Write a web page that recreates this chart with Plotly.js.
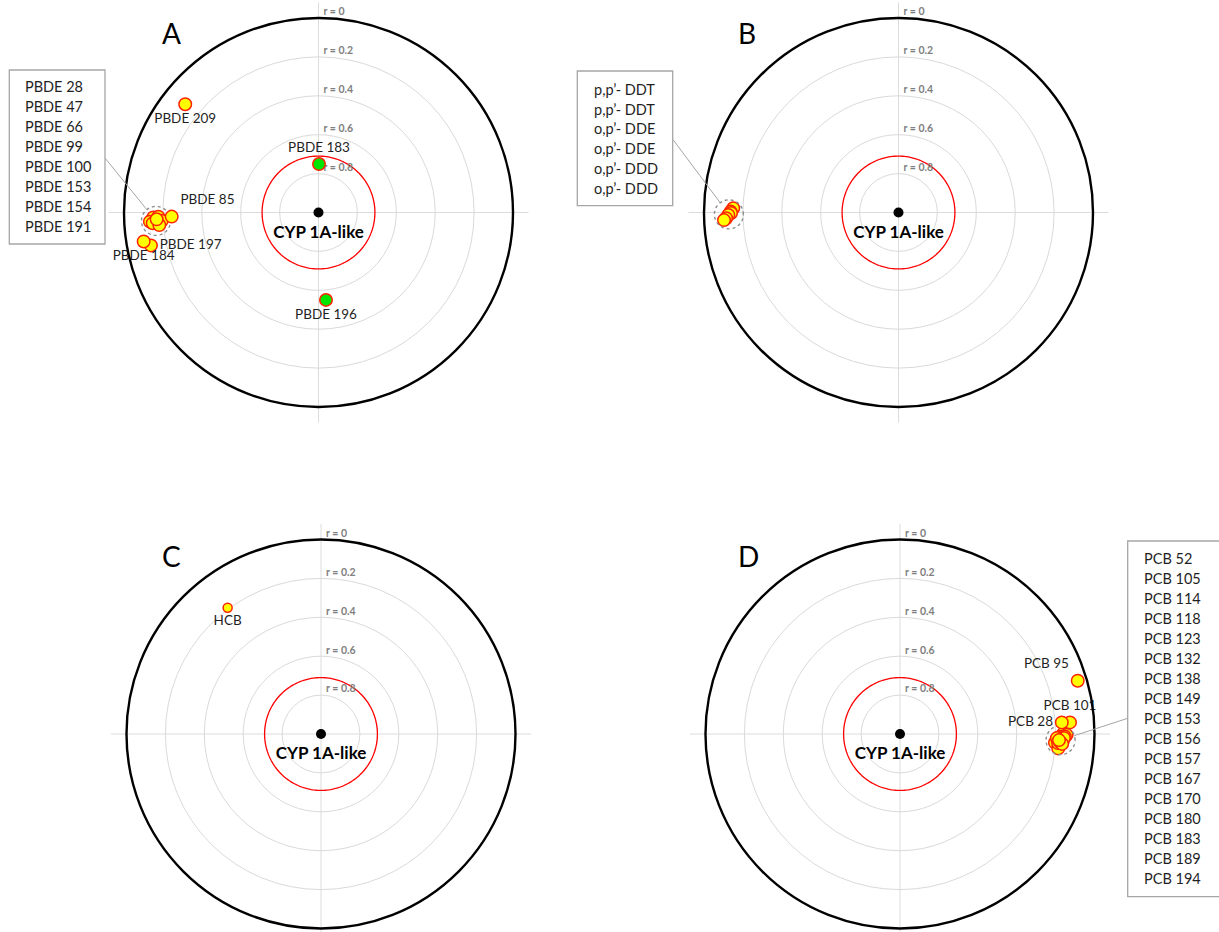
<!DOCTYPE html>
<html><head><meta charset="utf-8">
<script src="https://cdn.plot.ly/plotly-3.0.1.min.js"></script>
<style>html,body{margin:0;padding:0;background:#fff}#chart{width:1219px;height:932px}</style>
</head><body><div id="chart"></div>
<script>
// ---------------- DATA ----------------
// Ring labels (correlation r), threshold circle and centre label
const ringValues = [0, 0.2, 0.4, 0.6, 0.8];
const ringLabels = ['r = 0', 'r = 0.2', 'r = 0.4', 'r = 0.6', 'r = 0.8'];
const thresholdR = 0.71;
const centerLabel = 'CYP 1A-like';
const panelLetters = ['A', 'B', 'C', 'D'];

// Panel A – PBDEs (labelled points)
const aNames = ['PBDE 209', 'PBDE 183', 'PBDE 196', 'PBDE 85', 'PBDE 197', 'PBDE 184'];
const aR     = [0.117, 0.751, 0.549, 0.245, 0.122, 0.089];
const aTheta = [140.9, 89.4, 274.9, 181.6, 191.1, 189.4];
const aClass = ['other', 'similar', 'similar', 'other', 'other', 'other'];
// Panel A – cluster (listed in box)
const aClusterNames = ['PBDE 28', 'PBDE 47', 'PBDE 66', 'PBDE 99', 'PBDE 100', 'PBDE 153', 'PBDE 154', 'PBDE 191'];
const aClusterR     = [0.150, 0.176, 0.132, 0.163, 0.193, 0.146, 0.179, 0.167];
const aClusterTheta = [181.7, 181.5, 183.1, 183.8, 183.0, 183.7, 184.5, 182.4];

// Panel B – DDT-type compounds (cluster)
const bClusterNames = ['p,p\u2019- DDT', 'p,p\u2019- DDT', 'o,p\u2019- DDE', 'o,p\u2019- DDE', 'o,p\u2019- DDD', 'o,p\u2019- DDD'];
const bClusterR     = [0.150, 0.137, 0.139, 0.125, 0.113, 0.102];
const bClusterTheta = [178.5, 179.7, 180.2, 180.8, 181.9, 182.5];

// Panel C – HCB
const cNames = ['HCB'];
const cR     = [0.193];
const cTheta = [126.5];

// Panel D – PCBs (labelled points)
const dNames = ['PCB 95', 'PCB 101', 'PCB 28'];
const dR     = [0.046, 0.124, 0.166];
const dTheta = [16.7, 3.9, 4.1];
// Panel D – cluster
const dClusterNames = ['PCB 52', 'PCB 105', 'PCB 114', 'PCB 118', 'PCB 123', 'PCB 132', 'PCB 138', 'PCB 149', 'PCB 153',
                       'PCB 156', 'PCB 157', 'PCB 167', 'PCB 170', 'PCB 180', 'PCB 183', 'PCB 189', 'PCB 194'];
const dClusterR     = [0.160, 0.143, 0.177, 0.152, 0.194, 0.168, 0.202, 0.163, 0.179, 0.183, 0.172, 0.186, 0.157, 0.176, 0.193, 0.165, 0.182];
const dClusterTheta = [0.2, 359.7, 359.0, 359.1, 357.8, 358.1, 356.8, 357.3, 356.0, 354.8, 358.6, 356.7, 358.6, 357.1, 358.5, 356.5, 357.8];

// ---------------- STYLE / LAYOUT ----------------
const W = 1219, H = 932, R = 194.5, EXT = 15.5;
const FONT = 'Lato, "Open Sans", sans-serif';
const centers = [[318.5, 212.5], [898.5, 212.5], [321, 734], [900, 734]];
const letterPos = [[171, 33], [747, 33], [171, 556], [748, 556]];
const labelPlacement = {
  'PBDE 209': 'bottom center', 'PBDE 183': 'top center', 'PBDE 196': 'bottom center',
  'PBDE 85': 'top right', 'PBDE 197': 'middle right', 'PBDE 184': 'bottom center',
  'HCB': 'bottom center', 'PCB 95': 'top left', 'PCB 101': 'top center', 'PCB 28': 'middle left'
};
const classColor = {other: '#ffff00', similar: '#00e600'};
const OUTLINE = '#ff2200';
const TEXT_COLOR = '#1f1f1f';
const boxes = [ // legend boxes: pixel rect, text left, first line y, connector start, panel index
  {panel: 0, names: aClusterNames, x0: 9.3, x1: 105, y0: 70, y1: 244, tx: 23.3, ty: 86.7, step: 20, cx: 105, cy: 158, rr: aClusterR, th: aClusterTheta},
  {panel: 1, names: bClusterNames, x0: 577.3, x1: 672.7, y0: 71, y1: 205.7, tx: 591.7, ty: 89.3, step: 19.8, cx: 673.3, cy: 140, rr: bClusterR, th: bClusterTheta},
  {panel: 3, names: dClusterNames, x0: 1127.7, x1: 1230, y0: 541, y1: 896.7, tx: 1141.7, ty: 558.3, step: 20, cx: 1127.7, cy: 718.3, rr: dClusterR, th: dClusterTheta}
];
const CLUSTER_RAD = 14.5; // px

const dist = r => 1 - r;
const traces = [];
const layout = {
  width: W, height: H, margin: {l: 0, r: 0, t: 0, b: 0, pad: 0},
  paper_bgcolor: '#fff', showlegend: false, hovermode: false,
  font: {family: FONT, color: TEXT_COLOR},
  shapes: [], annotations: []
};

function polarName(i) { return i === 0 ? 'polar' : 'polar' + (i + 1); }

centers.forEach(([cx, cy], i) => {
  layout[polarName(i)] = {
    domain: {x: [(cx - R) / W, (cx + R) / W], y: [1 - (cy + R) / H, 1 - (cy - R) / H]},
    bgcolor: 'rgba(0,0,0,0)',
    radialaxis: {range: [0, 1], tickvals: ringValues.slice(1).map(dist), showticklabels: false, ticks: '',
                 showline: false, gridcolor: '#dadada', gridwidth: 1},
    angularaxis: {showgrid: false, showticklabels: false, ticks: '', showline: true, linecolor: '#000', linewidth: 2.4}
  };
  // crosshair
  layout.shapes.push({type: 'line', xref: 'paper', yref: 'paper', layer: 'below',
    x0: (cx - R - EXT) / W, x1: (cx + R + EXT) / W, y0: 1 - cy / H, y1: 1 - cy / H, line: {color: '#dcdcdc', width: 1}});
  layout.shapes.push({type: 'line', xref: 'paper', yref: 'paper', layer: 'below',
    x0: cx / W, x1: cx / W, y0: 1 - (cy - R - EXT) / H, y1: 1 - (cy + R + EXT) / H, line: {color: '#dcdcdc', width: 1}});
  const sp = polarName(i);
  // threshold circle
  const th = [], rr = [];
  for (let a = 0; a <= 360; a += 2) { th.push(a); rr.push(dist(thresholdR)); }
  traces.push({type: 'scatterpolar', subplot: sp, mode: 'lines', r: rr, theta: th,
    line: {color: '#ff0000', width: 1.3}, hoverinfo: 'skip'});
  // ring labels
  traces.push({type: 'scatterpolar', subplot: sp, mode: 'text', r: ringValues.map(dist), theta: ringValues.map(() => 90),
    text: ringLabels.map(t => '\u00a0\u00a0' + t), textposition: 'top right', cliponaxis: false,
    textfont: {family: FONT, size: 10.5, color: '#808080', weight: 'bold'}, hoverinfo: 'skip'});
  // panel letter
  layout.annotations.push({xref: 'paper', yref: 'paper', x: letterPos[i][0] / W, y: 1 - letterPos[i][1] / H,
    xanchor: 'center', yanchor: 'middle', showarrow: false, text: panelLetters[i], font: {family: FONT, size: 28, color: '#000'}});
});

// cluster points + dotted circles + boxes
boxes.forEach(b => {
  const sp = polarName(b.panel);
  const [cx, cy] = centers[b.panel];
  traces.push({type: 'scatterpolar', subplot: sp, mode: 'markers', r: b.rr.map(dist), theta: b.th,
    marker: {size: 12.5, color: classColor.other, line: {color: OUTLINE, width: 1.5}}, cliponaxis: false, hoverinfo: 'skip'});
  // centroid in xy
  let sx = 0, sy = 0;
  b.rr.forEach((r, k) => { const d = dist(r), t = b.th[k] * Math.PI / 180; sx += d * Math.cos(t); sy += d * Math.sin(t); });
  sx /= b.rr.length; sy /= b.rr.length;
  const rho = CLUSTER_RAD / R;
  const cr = [], ct = [];
  for (let a = 0; a <= 360; a += 4) {
    const x = sx + rho * Math.cos(a * Math.PI / 180), y = sy + rho * Math.sin(a * Math.PI / 180);
    cr.push(Math.hypot(x, y)); ct.push(Math.atan2(y, x) * 180 / Math.PI);
  }
  traces.push({type: 'scatterpolar', subplot: sp, mode: 'lines', r: cr, theta: ct, cliponaxis: false,
    line: {color: '#8c8c8c', width: 1.4, dash: 'dot'}, hoverinfo: 'skip'});
  // connector line
  const px = cx + sx * R, py = cy - sy * R;
  const vx = b.cx - px, vy = b.cy - py, n = Math.hypot(vx, vy);
  layout.shapes.push({type: 'line', xref: 'paper', yref: 'paper', layer: 'above',
    x0: b.cx / W, y0: 1 - b.cy / H, x1: (px + vx / n * CLUSTER_RAD) / W, y1: 1 - (py + vy / n * CLUSTER_RAD) / H,
    line: {color: '#a6a6a6', width: 1}});
  // box
  layout.shapes.push({type: 'rect', xref: 'paper', yref: 'paper', layer: 'above',
    x0: b.x0 / W, x1: b.x1 / W, y0: 1 - b.y0 / H, y1: 1 - b.y1 / H, line: {color: '#a6a6a6', width: 1.3}, fillcolor: 'rgba(255,255,255,1)'});
  b.names.forEach((nm, k) => {
    layout.annotations.push({xref: 'paper', yref: 'paper', x: b.tx / W, y: 1 - (b.ty + k * b.step) / H,
      xanchor: 'left', yanchor: 'middle', showarrow: false, text: nm, font: {family: FONT, size: 14.5, color: TEXT_COLOR}});
  });
});

// labelled points
function labelled(panel, names, rs, thetas, classes, size) {
  const sp = polarName(panel);
  const groups = {};
  names.forEach((n, k) => { const c = classes ? classes[k] : 'other'; (groups[c] = groups[c] || []).push(k); });
  Object.keys(groups).forEach(c => {
    const idx = groups[c];
    traces.push({type: 'scatterpolar', subplot: sp, mode: 'markers+text',
      r: idx.map(k => dist(rs[k])), theta: idx.map(k => thetas[k]), text: idx.map(k => names[k]),
      textposition: idx.map(k => labelPlacement[names[k]]), cliponaxis: false,
      textfont: {family: FONT, size: 13.5, color: TEXT_COLOR},
      marker: {size: size, color: classColor[c], line: {color: OUTLINE, width: 1.5}}, hoverinfo: 'skip'});
  });
}
labelled(0, aNames, aR, aTheta, aClass, 12.5);
labelled(2, cNames, cR, cTheta, null, 9);
labelled(3, dNames, dR, dTheta, null, 12.5);

// centre points and labels
centers.forEach((c, i) => {
  traces.push({type: 'scatterpolar', subplot: polarName(i), mode: 'markers+text', r: [0], theta: [0],
    text: [centerLabel], textposition: 'bottom center', cliponaxis: false,
    textfont: {family: FONT, size: 17, color: '#000', weight: 'bold'}, marker: {size: 18, opacity: 0}, hoverinfo: 'skip'});
  traces.push({type: 'scatterpolar', subplot: polarName(i), mode: 'markers', r: [0], theta: [0],
    marker: {size: 10, color: '#000'}, hoverinfo: 'skip'});
});

Plotly.newPlot('chart', traces, layout, {staticPlot: true, displayModeBar: false});
</script>
</body></html>
